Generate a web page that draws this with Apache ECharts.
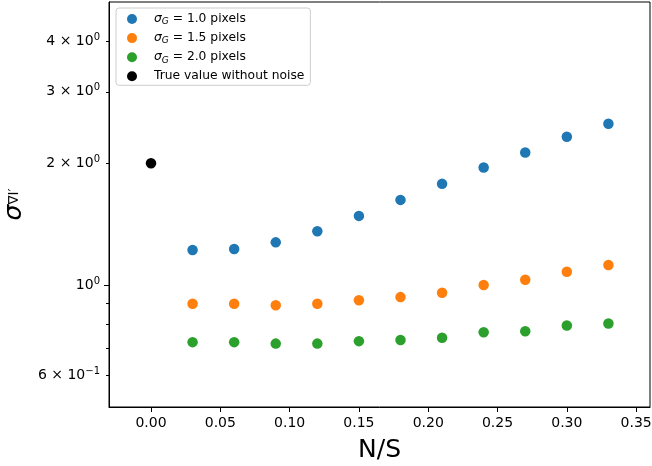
<!DOCTYPE html>
<html>
<head>
<meta charset="utf-8">
<script src="https://cdn.jsdelivr.net/npm/echarts@6/dist/echarts.min.js"></script>
<style>
  html, body { margin: 0; padding: 0; background: #fff; }
  #chart { width: 652px; height: 466px; }
</style>
</head>
<body>
<div id="chart"></div>
<script>
// noise levels on the x axis
const noiseRatio = [0.03, 0.06, 0.09, 0.12, 0.15, 0.18, 0.21, 0.24, 0.27, 0.30, 0.33];

// measured sigma for each gaussian width
const sigma10 = [1.221, 1.228, 1.275, 1.358, 1.482, 1.623, 1.778, 1.951, 2.126, 2.325, 2.503];
const sigma15 = [0.899, 0.899, 0.892, 0.899, 0.917, 0.934, 0.957, 1.000, 1.031, 1.079, 1.121];
const sigma20 = [0.723, 0.723, 0.717, 0.717, 0.727, 0.732, 0.741, 0.765, 0.769, 0.795, 0.804];

// noiseless reference point
const trueX = [0];
const trueY = [2.0];

const seriesNames = ['1.0', '1.5', '2.0', 'true'];
const seriesColors = ['#1f77b4', '#ff7f0e', '#2ca02c', '#000000'];

const xTicks = [0, 0.05, 0.1, 0.15, 0.2, 0.25, 0.3, 0.35];
const yMajorTicks = [1];
const yMinorTicks = [0.6, 0.7, 0.8, 0.9, 2, 3, 4];
const yLabelValues = [0.6, 1, 2, 3, 4];
const yLabelMant = ['6', '', '2', '3', '4'];
const yLabelExp = ['−1', '0', '0', '0', '0'];

const pairs = (xs, ys) => xs.map((x, i) => [x, ys[i]]);

const chart = echarts.init(document.getElementById('chart'));

const font = 'DejaVu Sans';

const legendRich = {
  it: { fontFamily: font, fontStyle: 'italic', fontSize: 12.3, lineHeight: 15, color: '#000' },
  sub: { fontFamily: font, fontStyle: 'italic', fontSize: 9, lineHeight: 11, color: '#000', verticalAlign: 'bottom' },
  t: { fontFamily: font, fontSize: 12.3, lineHeight: 15, color: '#000' }
};

const scatter = (name, data, color) => ({
  name: name,
  type: 'scatter',
  data: data,
  symbol: 'circle',
  symbolSize: 10.5,
  itemStyle: { color: color, opacity: 1 },
  emphasis: { disabled: true },
  silent: true
});

chart.setOption({
  animation: false,
  grid: {
    left: 109, right: 2, top: 2, bottom: 59,
    outerBoundsMode: 'none',
    containLabel: false,
    show: true, borderColor: '#000', borderWidth: 1, backgroundColor: 'transparent'
  },
  legend: {
    orient: 'vertical',
    left: 116, top: 8,
    padding: [5, 6, 3, 11],
    itemGap: 5.6,
    itemWidth: 10, itemHeight: 10,
    icon: 'circle',
    selectedMode: false,
    backgroundColor: 'rgba(255,255,255,0.8)',
    borderColor: '#cccccc', borderWidth: 1, borderRadius: 3,
    data: seriesNames,
    formatter: function (name) {
      if (name === 'true') return '{t|True value without noise}';
      return '{it|σ}{sub|G}{t| = ' + name + ' pixels}';
    },
    textStyle: { padding: [0, 0, 0, 12], rich: legendRich }
  },
  xAxis: {
    type: 'value',
    min: -0.0303, max: 0.36,
    name: 'N/S',
    nameLocation: 'middle',
    nameGap: 31,
    nameTextStyle: { fontFamily: font, fontSize: 25, color: '#000' },
    splitLine: { show: false },
    axisLine: { show: true, onZero: false, lineStyle: { color: '#000', width: 1 } },
    axisTick: { show: true, customValues: xTicks, length: 5, lineStyle: { color: '#000', width: 1 } },
    axisLabel: {
      customValues: xTicks,
      fontFamily: font, fontSize: 14, color: '#000', margin: 9,
      formatter: v => v.toFixed(2)
    }
  },
  yAxis: [
    {
      type: 'log',
      min: 0.5, max: 5,
      name: '{s|σ}{sub|∇I′}',
      nameLocation: 'middle',
      nameRotate: 90,
      nameGap: 73,
      nameTextStyle: {
        rich: {
          s: { fontFamily: font, fontStyle: 'italic', fontSize: 25, color: '#000', lineHeight: 30 },
          sub: { fontFamily: font, fontSize: 13.5, color: '#000', lineHeight: 30, verticalAlign: 'middle' }
        }
      },
      splitLine: { show: false },
      axisLine: { show: true, onZero: false, lineStyle: { color: '#000', width: 1 } },
      axisTick: { show: true, customValues: yMajorTicks, length: 5, lineStyle: { color: '#000', width: 1 } },
      axisLabel: {
        customValues: yLabelValues,
        margin: 9,
        formatter: function (v) {
          const i = yLabelValues.findIndex(t => Math.abs(t - v) < 1e-6);
          if (i < 0) return '';
          const head = yLabelMant[i] ? yLabelMant[i] + ' × 10' : '10';
          return '{b|' + head + '}{e|' + yLabelExp[i] + '}';
        },
        rich: {
          b: { fontFamily: font, fontSize: 14, color: '#000', lineHeight: 18 },
          e: { fontFamily: font, fontSize: 10, color: '#000', lineHeight: 10, verticalAlign: 'top' }
        }
      }
    },
    {
      type: 'log',
      min: 0.5, max: 5,
      position: 'left',
      splitLine: { show: false },
      axisLine: { show: false, onZero: false },
      axisTick: { show: true, customValues: yMinorTicks, length: 3, lineStyle: { color: '#000', width: 1 } },
      axisLabel: { show: false }
    }
  ],
  series: [
    scatter(seriesNames[0], pairs(noiseRatio, sigma10), seriesColors[0]),
    scatter(seriesNames[1], pairs(noiseRatio, sigma15), seriesColors[1]),
    scatter(seriesNames[2], pairs(noiseRatio, sigma20), seriesColors[2]),
    scatter(seriesNames[3], pairs(trueX, trueY), seriesColors[3])
  ]
});
</script>
</body>
</html>
